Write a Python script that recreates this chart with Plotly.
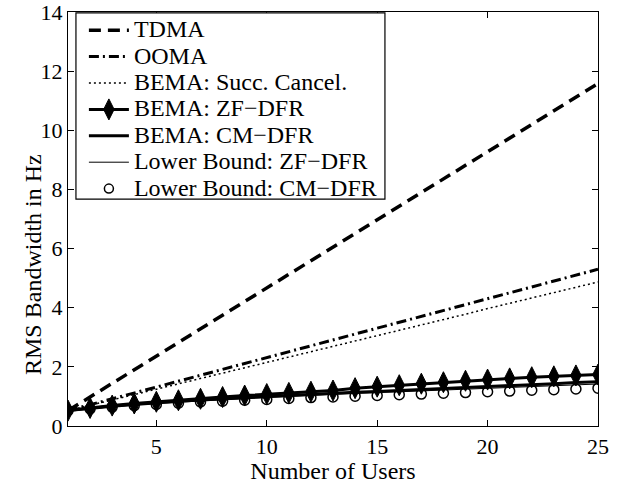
import plotly.graph_objects as go

users = list(range(1, 26))
tdma = [0.52, 0.98, 1.44, 1.90, 2.36, 2.82, 3.28, 3.74, 4.20, 4.66, 5.13, 5.59, 6.05,
        6.51, 6.97, 7.43, 7.89, 8.35, 8.81, 9.27, 9.74, 10.20, 10.66, 11.12, 11.58]
ooma = [0.52, 0.72, 0.92, 1.12, 1.32, 1.52, 1.72, 1.92, 2.12, 2.32, 2.52, 2.72, 2.91,
        3.11, 3.31, 3.51, 3.71, 3.91, 4.11, 4.30, 4.50, 4.70, 4.90, 5.10, 5.30]
bema_sc = [0.52, 0.70, 0.88, 1.06, 1.25, 1.43, 1.61, 1.79, 1.97, 2.15, 2.33, 2.51, 2.70,
           2.88, 3.06, 3.24, 3.42, 3.60, 3.78, 3.97, 4.15, 4.33, 4.51, 4.69, 4.87]
bema_zf = [0.52, 0.61, 0.69, 0.76, 0.82, 0.87, 0.92, 0.98, 1.03, 1.08, 1.12, 1.16, 1.20,
           1.28, 1.33, 1.38, 1.43, 1.48, 1.53, 1.57, 1.61, 1.65, 1.68, 1.71, 1.74]
bema_cm = [0.52, 0.60, 0.67, 0.73, 0.79, 0.84, 0.88, 0.92, 0.96, 1.00, 1.04, 1.07, 1.10,
           1.14, 1.17, 1.20, 1.24, 1.27, 1.30, 1.34, 1.37, 1.40, 1.43, 1.47, 1.50]
lb_zf = [0.52, 0.59, 0.65, 0.71, 0.76, 0.81, 0.85, 0.89, 0.93, 0.97, 1.00, 1.04, 1.07,
         1.10, 1.13, 1.16, 1.19, 1.22, 1.25, 1.28, 1.31, 1.34, 1.37, 1.39, 1.42]
lb_cm = [0.52, 0.58, 0.64, 0.69, 0.73, 0.77, 0.81, 0.84, 0.87, 0.90, 0.93, 0.96, 0.98,
         1.01, 1.03, 1.06, 1.08, 1.11, 1.13, 1.16, 1.18, 1.21, 1.23, 1.25, 1.28]

x_ticks = [5, 10, 15, 20, 25]
y_ticks = [0, 2, 4, 6, 8, 10, 12, 14]

FONT = "Liberation Serif, Times New Roman, serif"


def big(label):
    return '<span style="font-size:24px">' + label + '</span>'


fig = go.Figure()
fig.add_trace(go.Scatter(x=users, y=tdma, mode="lines", name=big("TDMA"),
                         line=dict(color="black", width=3.5, dash="12px,7px")))
fig.add_trace(go.Scatter(x=users, y=ooma, mode="lines", name=big("OOMA"),
                         line=dict(color="black", width=3, dash="10px,4px,2px,4px")))
fig.add_trace(go.Scatter(x=users, y=bema_sc, mode="lines", name=big("BEMA: Succ. Cancel."),
                         line=dict(color="black", width=1.5, dash="2px,3px")))
fig.add_trace(go.Scatter(x=users, y=lb_cm, mode="markers", name="Lower Bound: CM\u2212DFR",
                         marker=dict(symbol="circle-open", size=10, color="black",
                                     line=dict(width=1.5, color="black")),
                         showlegend=False))
fig.add_trace(go.Scatter(x=users, y=bema_zf, mode="lines+markers", name=big("BEMA: ZF\u2212DFR"),
                         line=dict(color="black", width=3),
                         marker=dict(symbol="diamond-tall", size=15, color="black",
                                     line=dict(width=1, color="black"))))
fig.add_trace(go.Scatter(x=users, y=bema_cm, mode="lines", name=big("BEMA: CM\u2212DFR"),
                         line=dict(color="black", width=3)))
fig.add_trace(go.Scatter(x=users, y=lb_zf, mode="lines", name=big("Lower Bound: ZF\u2212DFR"),
                         line=dict(color="black", width=1)))
fig.add_trace(go.Scatter(x=[None], y=[None], mode="markers", name=big("Lower Bound: CM\u2212DFR"),
                         marker=dict(symbol="circle-open", size=9, color="black",
                                     line=dict(width=1.5, color="black"))))

axis_common = dict(showline=True, linecolor="black", linewidth=1.2, mirror="ticks",
                   ticks="inside", ticklen=6, tickcolor="black", showgrid=False,
                   zeroline=False, automargin=False, ticklabeloverflow="allow",
                   tickfont=dict(family=FONT, size=22, color="black"))

fig.update_layout(
    width=620, height=484,
    margin=dict(l=68, r=22, t=12, b=58),
    paper_bgcolor="white", plot_bgcolor="white",
    font=dict(family=FONT, size=22, color="black"),
    xaxis=dict(range=[1, 25], tickvals=x_ticks,
               title=dict(text="Number of Users", font=dict(family=FONT, size=24), standoff=0),
               **axis_common),
    yaxis=dict(range=[0, 14], tickvals=y_ticks, **axis_common),
    showlegend=True,
    legend=dict(x=0.03, y=1.0, xanchor="left", yanchor="top",
                bgcolor="rgba(0,0,0,0)", borderwidth=0, tracegroupgap=0,
                font=dict(family=FONT, size=18, color="black"), itemwidth=40),
    shapes=[dict(type="rect", xref="paper", yref="paper", x0=0.015, x1=0.598,
                 y0=0.548, y1=0.998, line=dict(color="black", width=1.2),
                 fillcolor="white", layer="above")],
    annotations=[dict(text="RMS Bandwidth in Hz", xref="paper", yref="paper",
                      x=-0.066, y=0.389, xanchor="center", yanchor="middle",
                      textangle=-90, showarrow=False,
                      font=dict(family=FONT, size=24, color="black"))],
)

fig.write_html("out.html")
